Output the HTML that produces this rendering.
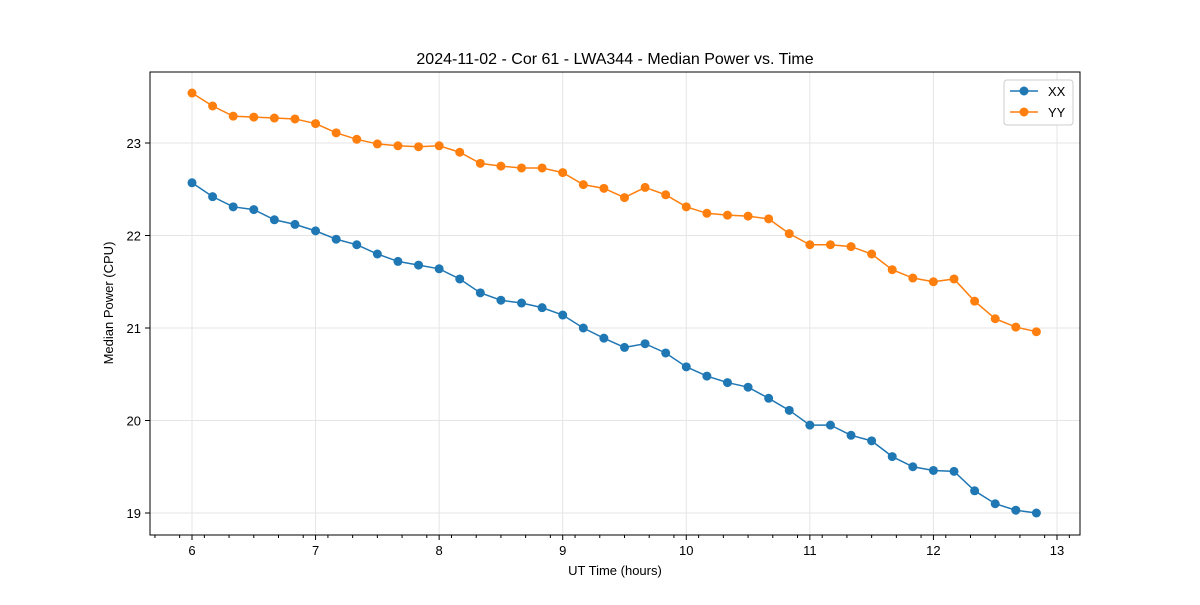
<!DOCTYPE html>
<html><head><meta charset="utf-8"><style>
body{margin:0;background:#fff;font-family:"Liberation Sans","DejaVu Sans",sans-serif;}
</style></head><body>
<svg id="chart" width="1200" height="600" xmlns="http://www.w3.org/2000/svg" font-family="Liberation Sans, DejaVu Sans, sans-serif">
<rect width="1200" height="600" fill="#fff"/>
<text x="615" y="64" text-anchor="middle" font-size="16">2024-11-02 - Cor 61 - LWA344 - Median Power vs. Time</text>
<text x="615" y="575" text-anchor="middle" font-size="13">UT Time (hours)</text>
<text x="113" y="303" text-anchor="middle" font-size="13" transform="rotate(-90 113 303)">Median Power (CPU)</text>
<g id="grid"></g><g id="axes"></g><g id="series"></g>
<rect x="150" y="72" width="930" height="463" fill="none" stroke="#000" stroke-width="1"/>
<g>
<rect x="1004" y="80" width="69" height="45" rx="3" fill="#fff" stroke="#ccc"/>
<line x1="1010" y1="91" x2="1038" y2="91" stroke="#1f77b4" stroke-width="1.5"/><circle cx="1024" cy="91" r="4.5" fill="#1f77b4"/>
<text x="1048" y="96" font-size="13">XX</text>
<line x1="1010" y1="112" x2="1038" y2="112" stroke="#ff7f0e" stroke-width="1.5"/><circle cx="1024" cy="112" r="4.5" fill="#ff7f0e"/>
<text x="1048" y="117" font-size="13">YY</text>
</g>
</svg>
<script>
const xx = [22.57,22.42,22.31,22.28,22.17,22.12,22.05,21.96,21.90,21.80,21.72,21.68,21.64,21.53,21.38,21.30,21.27,21.22,21.14,21.00,20.89,20.79,20.83,20.73,20.58,20.48,20.41,20.36,20.24,20.11,19.95,19.95,19.84,19.78,19.61,19.50,19.46,19.45,19.24,19.10,19.03,19.00];
const yy = [23.54,23.40,23.29,23.28,23.27,23.26,23.21,23.11,23.04,22.99,22.97,22.96,22.97,22.90,22.78,22.75,22.73,22.73,22.68,22.55,22.51,22.41,22.52,22.44,22.31,22.24,22.22,22.21,22.18,22.02,21.90,21.90,21.88,21.80,21.63,21.54,21.50,21.53,21.29,21.10,21.01,20.96];
const times = xx.map((_, i) => 6 + i / 6);
const xTicks = [6,7,8,9,10,11,12,13];
const yTicks = [19,20,21,22,23];
const NS = "http://www.w3.org/2000/svg";
const sx = t => 192 + (t - 6) * 123.57;
const sy = v => 143 + (23 - v) * 92.5;
function mk(tag, attrs, parent){const e=document.createElementNS(NS,tag);for(const k in attrs)e.setAttribute(k,attrs[k]);parent.appendChild(e);return e;}
const grid=document.getElementById('grid'), axes=document.getElementById('axes'), ser=document.getElementById('series');
xTicks.forEach(t=>{
  const g=mk('line',{x1:sx(t),x2:sx(t),y1:72,y2:535,stroke:'#e5e5e5','stroke-width':1},grid);
  
  
  mk('line',{x1:sx(t),x2:sx(t),y1:535,y2:540,stroke:'#000'},axes);
  const l=mk('text',{x:sx(t),y:555,'text-anchor':'middle','font-size':13},axes);
  
  
  l.textContent=t;
});
for(let m=5.7;m<13.1;m+=0.2){ if(Math.abs(m-Math.round(m))<0.01) continue; if(sx(m)<150||sx(m)>1080) continue;
  mk('line',{x1:sx(m),x2:sx(m),y1:535,y2:538,stroke:'#000'},axes);}
yTicks.forEach(v=>{
  const g=mk('line',{x1:150,x2:1080,y1:sy(v),y2:sy(v),stroke:'#e5e5e5','stroke-width':1},grid);
  
  
  mk('line',{x1:145,x2:150,y1:sy(v),y2:sy(v),stroke:'#000'},axes);
  const l=mk('text',{x:141,y:sy(v)+5,'text-anchor':'end','font-size':13},axes);
  
  
  l.textContent=v;
});
[[xx,'#1f77b4','xx'],[yy,'#ff7f0e','yy']].forEach(([d,c,n])=>{
  const p=mk('polyline',{points:d.map((v,i)=>sx(times[i])+','+sy(v)).join(' '),fill:'none',stroke:c,'stroke-width':1.5},ser);
  
  
  d.forEach((v,i)=>{
    const ci=mk('circle',{cx:sx(times[i]),cy:sy(v),r:4.5,fill:c},ser);
    
    
  });
});
</script>
</body></html>
